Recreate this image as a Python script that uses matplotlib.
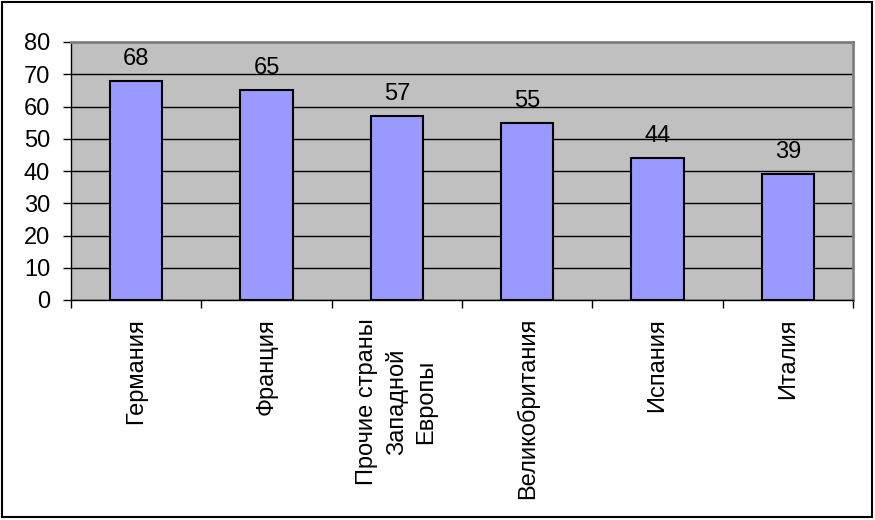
import matplotlib.pyplot as plt
from matplotlib.patches import Rectangle

categories = ["Германия", "Франция", "Прочие страны\nЗападной\nЕвропы",
              "Великобритания", "Испания", "Италия"]
values = [68, 65, 57, 55, 44, 39]
y_ticks = [0, 10, 20, 30, 40, 50, 60, 70, 80]

plt.rcParams["font.family"] = ["Liberation Sans", "DejaVu Sans"]
fs = 17

fig = plt.figure(figsize=(8.75, 5.2), dpi=100)
ax = fig.add_axes([71 / 875, 1 - 300 / 520, (853 - 71) / 875, (300 - 42) / 520])
ax.set_facecolor("#C0C0C0")

x = list(range(len(values)))
bars = ax.bar(x, values, width=0.4, color="#9999FF", edgecolor="black", linewidth=1.5, zorder=3)
for xi, v in zip(x, values):
    ax.annotate(str(v), (xi, v), xytext=(0, 8), textcoords="offset points",
                ha="center", va="bottom", fontsize=fs, zorder=4)

ax.set_xlim(-0.5, len(values) - 0.5)
ax.set_ylim(0, 80)
ax.set_yticks(y_ticks)
ax.yaxis.grid(True, color="black", linewidth=1, zorder=1)
ax.tick_params(axis="y", direction="out", length=6, width=1, labelsize=fs, pad=9)

ax.set_xticks([i - 0.5 for i in range(len(values) + 1)])
ax.set_xticklabels([])
ax.tick_params(axis="x", direction="out", length=6, width=1)
ax.set_xticks(x, minor=True)
ax.set_xticklabels(categories, minor=True, rotation=90, fontsize=fs,
                   ha="center", va="top", multialignment="center", linespacing=1.4)
ax.tick_params(axis="x", which="minor", length=0, pad=13)

for side in ["top", "right"]:
    ax.spines[side].set_color("#808080")
    ax.spines[side].set_linewidth(2)
for side in ["left", "bottom"]:
    ax.spines[side].set_color("black")
    ax.spines[side].set_linewidth(1)

fig.patches.append(Rectangle((0.002, 0.006), 0.994, 0.99, transform=fig.transFigure,
                             fill=False, edgecolor="black", linewidth=1.5))

fig.savefig("out.png", dpi=100)
